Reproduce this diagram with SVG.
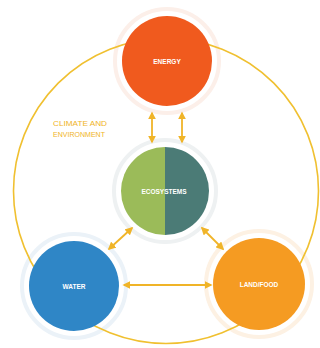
<svg xmlns="http://www.w3.org/2000/svg" width="320" height="348" viewBox="0 0 320 348">
<style>
.lbl{font-family:"Liberation Sans","DejaVu Sans",sans-serif;font-size:6.5px;font-weight:bold;fill:#ffffff;text-anchor:middle}
.env{font-family:"Liberation Sans","DejaVu Sans",sans-serif;font-size:7.5px;fill:#f0b428}
.arr{stroke:#f0b428;stroke-width:1.8;fill:none;marker-start:url(#ah);marker-end:url(#ah)}
.halo{fill:none;stroke-width:4}
</style>
<defs>
<marker id="ah" viewBox="0 0 10 10" refX="8" refY="5" markerWidth="4.5" markerHeight="4.5" orient="auto-start-reverse" markerUnits="strokeWidth">
<path d="M0,0 L10,5 L0,10 z" fill="#f0b428"/>
</marker>
<clipPath id="ecoclip"><circle cx="165" cy="191" r="44"/></clipPath>
</defs>
<rect width="320" height="348" fill="#ffffff"/>
<g id="halos">
<circle cx="167" cy="61" r="52" class="halo" stroke="#fcefe9"/>
<circle cx="165" cy="191" r="51" class="halo" stroke="#eef1f2"/>
<circle cx="74" cy="286" r="52" class="halo" stroke="#ebf2f8"/>
<circle cx="259" cy="284" r="53" class="halo" stroke="#fdf1e3"/>
</g>
<g id="climate">
<circle cx="166" cy="191" r="152.5" fill="none" stroke="#f0c030" stroke-width="1.6"/>
<text class="env" x="53" y="126" textLength="54" lengthAdjust="spacingAndGlyphs">CLIMATE AND</text>
<text class="env" x="53" y="137" textLength="52" lengthAdjust="spacingAndGlyphs">ENVIRONMENT</text>
</g>
<g id="connectors">
<line class="arr" x1="152" y1="113" x2="152" y2="142"/>
<line class="arr" x1="182" y1="113" x2="182" y2="142"/>
<line class="arr" x1="132" y1="228" x2="109" y2="249"/>
<line class="arr" x1="202" y1="228" x2="223" y2="249"/>
<line class="arr" x1="124" y1="285" x2="211" y2="285"/>
</g>
<g id="energy">
<circle cx="167" cy="61" r="45" fill="#f05a1e"/>
<text class="lbl" x="167" y="63.5">ENERGY</text>
</g>
<g id="ecosystems">
<g clip-path="url(#ecoclip)">
<rect x="120" y="146" width="45" height="90" fill="#9bbb59"/>
<rect x="165" y="146" width="45" height="90" fill="#4b7b76"/>
</g>
<text class="lbl" x="164" y="194">ECOSYSTEMS</text>
</g>
<g id="water">
<circle cx="74" cy="286" r="45" fill="#2f86c6"/>
<text class="lbl" x="74" y="288.5">WATER</text>
</g>
<g id="landfood">
<circle cx="259" cy="284" r="46" fill="#f59b22"/>
<text class="lbl" x="259" y="286.5">LAND/FOOD</text>
</g>
</svg>
